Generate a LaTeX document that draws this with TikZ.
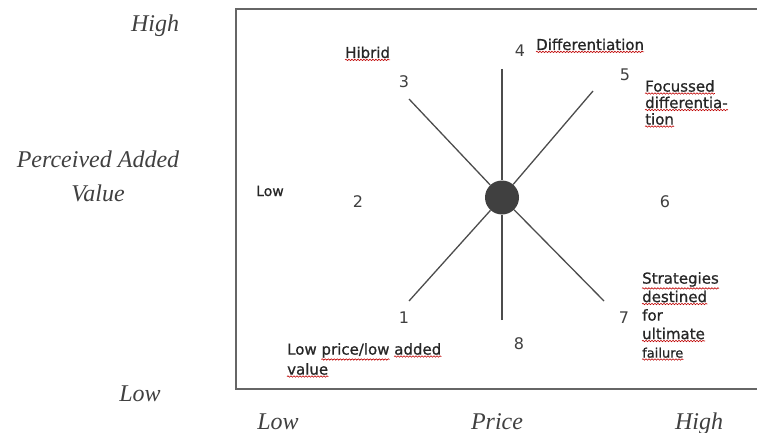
\documentclass[tikz,border=0pt]{standalone}
\usepackage{fontspec}
\setmainfont{Liberation Serif}
\newfontfamily\boxfont[FakeBold=0.9]{DejaVu Sans}
\newfontfamily\digitfont{DejaVu Sans}
\usetikzlibrary{decorations.pathmorphing}
\newcommand{\wavy}[1]{\tikz[baseline=(w.base)]{\node[inner sep=0pt] (w) {#1};
	\draw[overlay, red!75!black, line width=.6pt, decorate, decoration={snake, amplitude=.7pt, segment length=3pt}]
	([yshift=-1.5pt]w.south west) -- ([yshift=-1.5pt]w.south east);}}

\begin{document}
\begin{tikzpicture}[x=1pt, y=-1pt]
	\tikzstyle{axislabel} = [font=\fontsize{24}{28}\selectfont\itshape, text=black!75, inner sep=0pt]
	\tikzstyle{route} = [font=\boxfont\fontsize{15}{18}\selectfont, text=black!85, inner sep=0pt, align=left]
	\tikzstyle{digit} = [font=\digitfont\fontsize{16}{18}\selectfont, text=black!75]
	\tikzstyle{spoke} = [draw=black!70, line width=1.3pt]
	\useasboundingbox (0,0) rectangle (757,433);
	\draw [black!60, line width=1.5pt] (236,9) rectangle (760,389);
	% axis labels
	\node (vhigh)  at (155,32)  [axislabel, anchor=base] {High};
	\node (vname)  at (98,167)  [axislabel, anchor=base] {Perceived Added};
	\node (vname2) at (98,201)  [axislabel, anchor=base] {Value};
	\node (vlow)   at (140,401) [axislabel, anchor=base] {Low};
	\node (plow)   at (278,429) [axislabel, anchor=base] {Low};
	\node (pname)  at (497,429) [axislabel, anchor=base] {Price};
	\node (phigh)  at (699,429) [axislabel, anchor=base] {High};
	% clock
	\node (hub) at (502,197.5) [circle, fill=black!75, minimum size=34pt, inner sep=0pt] {};
	\coordinate (end1) at (409,301);
	\coordinate (end3) at (409,99);
	\coordinate (end4) at (502,69);
	\coordinate (end5) at (593,91);
	\coordinate (end7) at (604,301);
	\coordinate (end8) at (502,320);
	\draw [spoke] (end1) -- (hub);
	\draw [spoke] (end3) -- (hub);
	\draw [spoke] (end4) -- (hub);
	\draw [spoke] (end5) -- (hub);
	\draw [spoke] (end7) -- (hub);
	\draw [spoke] (end8) -- (hub);
	\node (n1) at (404,318) [digit] {1};
	\node (n2) at (358,202) [digit] {2};
	\node (n3) at (404,82)  [digit] {3};
	\node (n4) at (520,51)  [digit] {4};
	\node (n5) at (625,75)  [digit] {5};
	\node (n6) at (665,202) [digit] {6};
	\node (n7) at (624,318) [digit] {7};
	\node (n8) at (519,344) [digit] {8};
	% routes
	\node (hibrid) at (345,58)  [route, anchor=base west] {\wavy{Hibrid}};
	\node (diff)   at (536,50)  [route, anchor=base west] {\wavy{Differentiation}};
	\node (focus)  at (645,80)  [route, anchor=north west, font=\boxfont\fontsize{15}{16.5}\selectfont]
		{\wavy{Focussed}\\ \wavy{differentia-}\\ \wavy{tion}};
	\node (low)    at (256,196) [route, anchor=base west, font=\boxfont\fontsize{14}{16}\selectfont] {Low};
	\node (cheap)  at (287,343) [route, anchor=north west, font=\boxfont\fontsize{15}{20}\selectfont]
		{Low \wavy{price/low} \wavy{added}\\ \wavy{value}};
	\node (fail)   at (642,272) [route, anchor=north west, font=\boxfont\fontsize{15}{18.5}\selectfont]
		{\wavy{Strategies}\\ \wavy{destined}\\ for\\ \wavy{ultimate}\\ {\fontsize{13}{15}\selectfont\wavy{failure}}};
\end{tikzpicture}
\end{document}
